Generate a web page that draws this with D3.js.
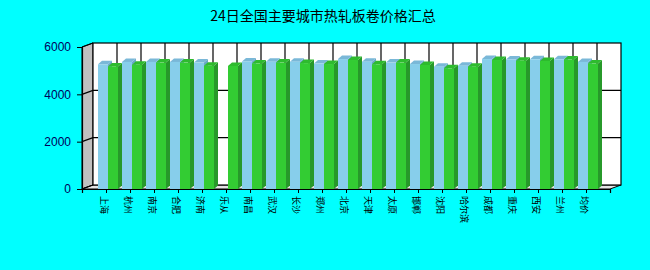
<!DOCTYPE html>
<html>
<head>
<meta charset="utf-8">
<script src="https://cdnjs.cloudflare.com/ajax/libs/d3/7.8.5/d3.min.js"></script>
<style>
  body { margin: 0; background: #00ffff; }
  svg { display: block; }
</style>
</head>
<body>
<svg id="chart" width="650" height="270"></svg>
<script>
var cities = ["上海","杭州","南京","合肥","济南","乐从","南昌","武汉","长沙","郑州","北京",
              "天津","太原","邯郸","沈阳","哈尔滨","成都","重庆","西安","兰州","均价"];
// first series (light blue), 乐从 has no value
var seriesA = [5270,5370,5370,5370,5340,null,5390,5380,5380,5300,5490,
               5380,5340,5280,5170,5210,5490,5470,5480,5480,5370];
// second series (green)
var seriesB = [5180,5250,5340,5340,5210,5200,5300,5340,5320,5280,5450,
               5270,5340,5240,5100,5170,5450,5420,5410,5470,5300];
var yTicks = [0, 2000, 4000, 6000];
var title = "24日全国主要城市热轧板卷价格汇总";

var svg = d3.select("#chart");

// front plane  (note: "top" is taken by window.top)
var plotLeft = 82, plotRight = 610, plotTop = 47, plotBottom = 189;
// wall depth offset
var dx = 11, dy = -4;
// bar depth offset
var bdx = 4, bdy = -3.5;
var barW = 10;

var x = d3.scaleLinear().domain([0, cities.length + 1]).range([plotLeft, plotRight]);
var y = d3.scaleLinear().domain([0, 6000]).range([plotBottom, plotTop]);

function poly(pts) { return "M" + pts.map(function(p){ return p[0] + "," + p[1]; }).join("L") + "Z"; }

svg.append("text")
  .attr("x", 323).attr("y", 21)
  .attr("text-anchor", "middle")
  .attr("font-family", "'Noto Sans CJK SC', sans-serif")
  .attr("font-size", 14)
  .attr("fill", "#000")
  .text(title);

// left wall
svg.append("path")
  .attr("d", poly([[plotLeft, y(6000)], [plotLeft + dx, y(6000) + dy], [plotLeft + dx, plotBottom + dy], [plotLeft, plotBottom]]))
  .attr("fill", "#c0c0c0").attr("stroke", "#000").attr("stroke-width", 1);
// floor
svg.append("path")
  .attr("d", poly([[plotLeft, plotBottom], [plotLeft + dx, plotBottom + dy], [plotRight + dx, plotBottom + dy], [plotRight, plotBottom]]))
  .attr("fill", "#e4e4e4").attr("stroke", "#000").attr("stroke-width", 1);
// back wall
svg.append("rect")
  .attr("x", plotLeft + dx).attr("y", y(6000) + dy)
  .attr("width", plotRight - plotLeft).attr("height", plotBottom - y(6000))
  .attr("fill", "#fff").attr("stroke", "#000").attr("stroke-width", 1.2);

// back wall grid
var grid = svg.append("g").attr("stroke", "#000").attr("stroke-width", 1.2);
yTicks.slice(1, -1).forEach(function(t) {
  grid.append("line")
    .attr("x1", plotLeft + dx).attr("x2", plotRight + dx)
    .attr("y1", y(t) + dy).attr("y2", y(t) + dy);
});
d3.range(1, cities.length + 1).forEach(function(i) {
  grid.append("line")
    .attr("x1", x(i) + dx).attr("x2", x(i) + dx)
    .attr("y1", y(6000) + dy).attr("y2", plotBottom + dy);
});
// left wall grid
yTicks.forEach(function(t) {
  grid.append("line")
    .attr("x1", plotLeft).attr("x2", plotLeft + dx)
    .attr("y1", y(t)).attr("y2", y(t) + dy);
});

// bars
var styles = [
  { front: "#87ceeb", top: "#7ab8d8", side: "#6aa8c8" },
  { front: "#33cc33", top: "#2ebb2e", side: "#27992a" }
];
var bars = svg.append("g");
cities.forEach(function(c, i) {
  var cx = x(i + 1);
  [seriesA[i], seriesB[i]].forEach(function(v, s) {
    if (v == null) return;
    var x0 = cx - 8 + s * barW, x1 = x0 + barW, yt = y(v), yb = y(0);
    var st = styles[s];
    bars.append("path")
      .attr("d", poly([[x1, yt], [x1 + bdx, yt + bdy], [x1 + bdx, yb + bdy], [x1, yb]]))
      .attr("fill", st.side);
    bars.append("path")
      .attr("d", poly([[x0, yt], [x0 + bdx, yt + bdy], [x1 + bdx, yt + bdy], [x1, yt]]))
      .attr("fill", st.top);
    bars.append("rect")
      .attr("x", x0).attr("y", yt)
      .attr("width", barW).attr("height", yb - yt)
      .attr("fill", st.front);
  });
});

// y axis
var yAxis = svg.append("g")
  .attr("transform", "translate(" + plotLeft + ",0)")
  .call(d3.axisLeft(y).tickValues(yTicks).tickSize(5).tickPadding(6).tickFormat(d3.format("d")));
yAxis.select(".domain").attr("stroke", "#000").attr("stroke-width", 1.2);
yAxis.selectAll("line").attr("stroke", "#000");
yAxis.selectAll("text")
  .attr("font-family", "'Liberation Sans', Arial, sans-serif")
  .attr("font-size", 12)
  .attr("fill", "#00005a");

// x axis
var xAxis = svg.append("g")
  .attr("transform", "translate(0," + plotBottom + ")")
  .call(d3.axisBottom(x).tickValues(d3.range(0, cities.length + 2)).tickSize(4).tickFormat(""));
xAxis.select(".domain").attr("stroke", "#000").attr("stroke-width", 1.2);
xAxis.selectAll("line").attr("stroke", "#000");

svg.append("g").selectAll("text")
  .data(cities)
  .join("text")
  .attr("transform", function(d, i) { return "translate(" + (x(i + 1) - 5) + "," + (plotBottom + 7) + ") rotate(90)"; })
  .attr("font-family", "'Noto Sans CJK SC', sans-serif")
  .attr("font-size", 9)
  .attr("fill", "#000")
  .text(function(d) { return d; });
</script>
</body>
</html>
